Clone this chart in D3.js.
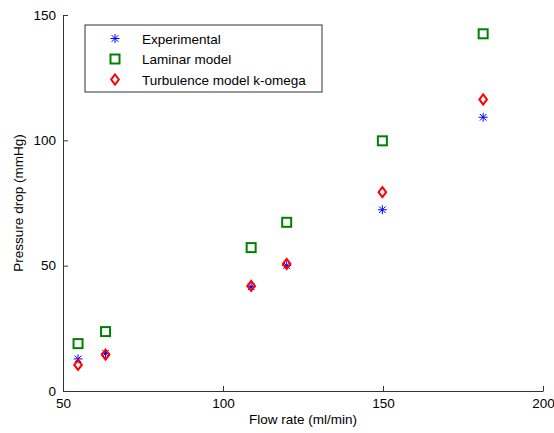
<!DOCTYPE html>
<html>
<head>
<meta charset="utf-8">
<script src="https://cdn.jsdelivr.net/npm/d3@7"></script>
<style>
  body { margin: 0; background: #fff; }
  text { font-family: "Liberation Sans", Arial, sans-serif; }
</style>
</head>
<body>
<div id="chart"></div>
<script>
// flow rates (ml/min)
const flowRates = [54.7, 63.3, 108.8, 119.9, 149.8, 181.3];
const experimental = [12.8, 15.0, 41.6, 50.0, 72.3, 109.2];
const laminar = [18.9, 23.7, 57.2, 67.3, 99.8, 142.5];
const turbulence = [10.4, 14.5, 41.9, 50.7, 79.3, 116.3];
const xTicks = [50, 100, 150, 200];
const yTicks = [0, 50, 100, 150];
const seriesNames = ["Experimental", "Laminar model", "Turbulence model k-omega"];

const width = 554, height = 433;
const margin = {top: 15, right: 11, bottom: 42, left: 63};
const w = width - margin.left - margin.right;
const h = height - margin.top - margin.bottom;

const svg = d3.select("#chart")
    .append("svg")
    .attr("width", width)
    .attr("height", height);

const g = svg.append("g")
    .attr("transform", `translate(${margin.left},${margin.top})`);

const x = d3.scaleLinear().domain([50, 200]).range([0, w]);
const y = d3.scaleLinear().domain([0, 150]).range([h, 0]);

// axes (ticks pointing inward, like matlab)
const xAxis = g.append("g")
    .attr("transform", `translate(0,${h})`)
    .call(d3.axisBottom(x).tickValues(xTicks).tickSizeInner(-5).tickSizeOuter(0).tickPadding(7));
const yAxis = g.append("g")
    .call(d3.axisLeft(y).tickValues(yTicks).tickSizeInner(-5).tickSizeOuter(0).tickPadding(7));

[xAxis, yAxis].forEach(ax => {
    ax.select(".domain").attr("stroke", "#333");
    ax.selectAll(".tick line").attr("stroke", "#333");
    ax.selectAll(".tick text")
        .attr("fill", "#000")
        .style("font-size", "13.5px")
        .style("font-family", "'Liberation Sans', Arial, sans-serif");
});

// axis labels
g.append("text")
    .attr("x", w / 2)
    .attr("y", h + 33)
    .attr("text-anchor", "middle")
    .style("font-size", "13.5px")
    .text("Flow rate (ml/min)");

g.append("text")
    .attr("transform", "rotate(-90)")
    .attr("x", -h / 2)
    .attr("y", -40)
    .attr("text-anchor", "middle")
    .style("font-size", "13.5px")
    .text("Pressure drop (mmHg)");

// marker drawers
function drawStar(sel, cx, cy) {
    const r = 4.5, d = 3.3;
    sel.append("path")
        .attr("d", `M${cx - r},${cy}L${cx + r},${cy}M${cx},${cy - r}L${cx},${cy + r}` +
                   `M${cx - d},${cy - d}L${cx + d},${cy + d}M${cx - d},${cy + d}L${cx + d},${cy - d}`)
        .attr("stroke", "#0000ff")
        .attr("stroke-width", 1)
        .attr("fill", "none");
}
function drawSquare(sel, cx, cy) {
    sel.append("rect")
        .attr("x", cx - 4.5).attr("y", cy - 4.5)
        .attr("width", 9).attr("height", 9)
        .attr("fill", "none")
        .attr("stroke", "#008000")
        .attr("stroke-width", 2);
}
function drawDiamond(sel, cx, cy) {
    sel.append("path")
        .attr("d", `M${cx},${cy - 5}L${cx + 3.8},${cy}L${cx},${cy + 5}L${cx - 3.8},${cy}Z`)
        .attr("fill", "none")
        .attr("stroke", "#ff0000")
        .attr("stroke-width", 2);
}

const drawers = [drawStar, drawSquare, drawDiamond];
const series = [experimental, laminar, turbulence];

// draw in matlab order: experimental, laminar, turbulence
series.forEach((vals, si) => {
    const layer = g.append("g");
    vals.forEach((v, i) => drawers[si](layer, x(flowRates[i]), y(v)));
});

// legend
const legend = svg.append("g").attr("transform", "translate(85,25)");
legend.append("rect")
    .attr("width", 237).attr("height", 67)
    .attr("fill", "#fff")
    .attr("stroke", "#333")
    .attr("stroke-width", 1);
seriesNames.forEach((name, i) => {
    const cy = 13.5 + i * 20.5;
    drawers[i](legend, 30, cy);
    legend.append("text")
        .attr("x", 57)
        .attr("y", cy + 5)
        .style("font-size", "13.5px")
        .text(name);
});
</script>
</body>
</html>
